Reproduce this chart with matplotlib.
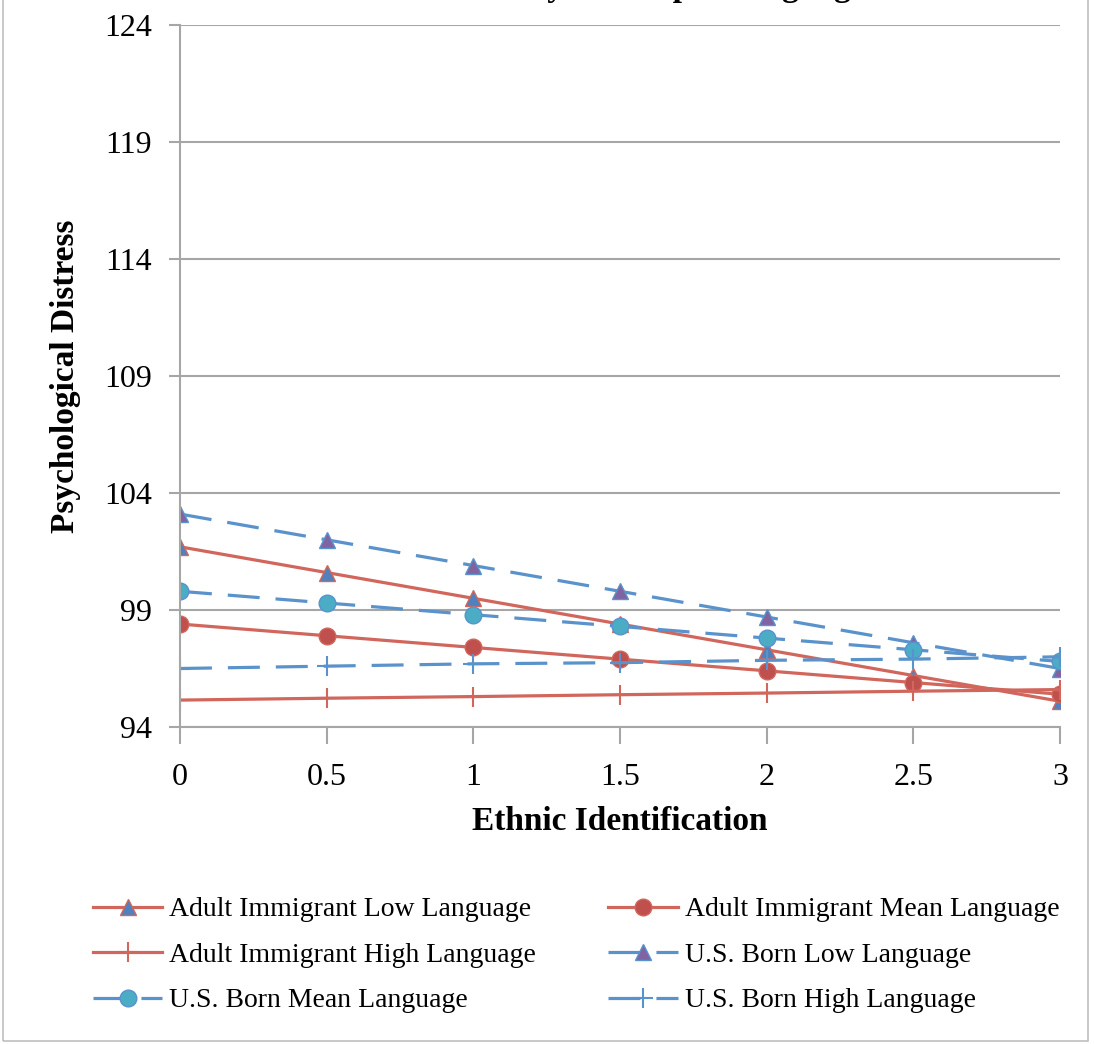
import matplotlib
matplotlib.use('Agg')
import matplotlib.pyplot as plt
from matplotlib.patches import Rectangle

# ethnic identification levels
xs = [0, 0.5, 1, 1.5, 2, 2.5, 3]

ai_low = [101.7, 100.6, 99.5, 98.4, 97.3, 96.2, 95.1]
ai_mean = [98.4, 97.9, 97.4, 96.9, 96.4, 95.9, 95.4]
ai_high = [95.15, 95.23, 95.3, 95.38, 95.45, 95.53, 95.6]
us_low = [103.1, 102.0, 100.9, 99.8, 98.7, 97.6, 96.5]
us_mean = [99.8, 99.3, 98.8, 98.3, 97.8, 97.3, 96.8]
us_high = [96.5, 96.6, 96.7, 96.75, 96.85, 96.9, 97.0]

yticks = [94, 99, 104, 109, 114, 119, 124]
xticklabels = ['0', '0.5', '1', '1.5', '2', '2.5', '3']

red = '#D1665C'
blue = '#5A92CC'
grid_col = '#A6A6A6'

plt.rcParams['font.family'] = ['Liberation Serif', 'DejaVu Serif']

fig = plt.figure(figsize=(10.94, 10.44), dpi=100)
ax = fig.add_axes([180/1094, 1 - 727/1044, 880/1094, 702/1044])

lw = 2.3
dash = (0, (10, 5))
h1, = ax.plot(xs, ai_low, color=red, lw=lw, marker='^', ms=12,
              mfc='#4F81BD', mec=red, mew=1, label='Adult Immigrant Low Language')
h2, = ax.plot(xs, ai_mean, color=red, lw=lw, marker='o', ms=12,
              mfc='#C0504D', mec=red, label='Adult Immigrant Mean Language')
h3, = ax.plot(xs, ai_high, color=red, lw=lw, marker='+', ms=15, mew=1.5,
              label='Adult Immigrant High Language')
h4, = ax.plot(xs, us_low, color=blue, lw=lw, ls=dash, marker='^', ms=12,
              mfc='#8064A2', mec=blue, mew=1, label='U.S. Born Low Language')
h5, = ax.plot(xs, us_mean, color=blue, lw=lw, ls=dash, marker='o', ms=12,
              mfc='#4BACC6', mec=blue, label='U.S. Born Mean Language')
h6, = ax.plot(xs, us_high, color=blue, lw=lw, ls=dash, marker='+', ms=15, mew=1.5,
              label='U.S. Born High Language')

ax.set_xlim(0, 3)
ax.set_ylim(94, 124)
ax.set_yticks(yticks)
ax.set_xticks(xs)
ax.set_xticklabels(xticklabels)
ax.yaxis.grid(True, color=grid_col, lw=1.5)
ax.set_axisbelow(True)
for s in ['top', 'right']:
    ax.spines[s].set_visible(False)
ax.spines['left'].set_color(grid_col)
ax.spines['left'].set_linewidth(1.5)
ax.spines['bottom'].set_color(grid_col)
ax.spines['bottom'].set_linewidth(1.5)
ax.tick_params(axis='both', colors=grid_col, labelcolor='black', labelsize=23, width=1.5)
ax.tick_params(axis='x', length=12, pad=14)
ax.tick_params(axis='y', length=8, pad=12)

ax.set_xlabel('Ethnic Identification', fontsize=24, fontweight='bold', labelpad=10)
ax.set_ylabel('Psychological Distress', fontsize=24, fontweight='bold', labelpad=17)

# title is cut off by the top edge, as in the source image
fig.text(0.555, 1.004, 'Ethnic Identity x Group x Language', ha='center', va='baseline',
         fontsize=24, fontweight='bold')

handles = [h1, h3, h5, h2, h4, h6]
fig.legend(handles=handles, labels=[h.get_label() for h in handles], ncol=2,
           loc='upper left', bbox_to_anchor=(68/1094, 1 - 872/1044), frameon=False,
           fontsize=20, handlelength=2.5, columnspacing=2.6, labelspacing=0.72,
           handletextpad=0.25)

fig.patches.append(Rectangle((3/1094, 3/1044), 1085/1094, 1045/1044,
                             transform=fig.transFigure, fill=False,
                             edgecolor='#BFBFBF', lw=1.2))

fig.savefig('out.png', dpi=100)
